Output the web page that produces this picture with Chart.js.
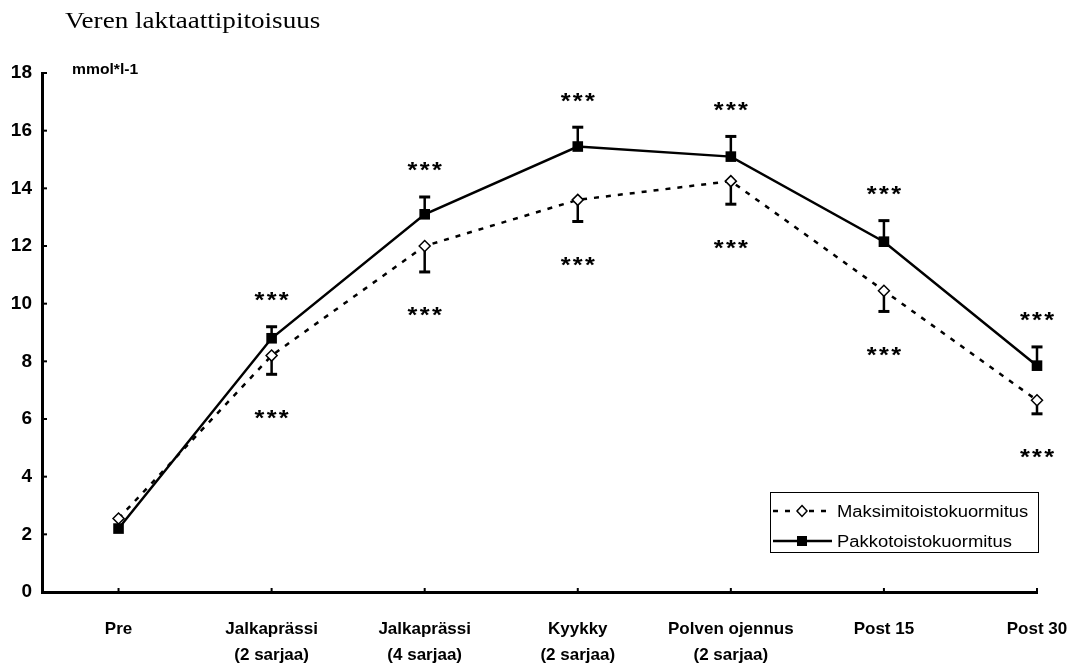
<!DOCTYPE html>
<html><head><meta charset="utf-8">
<script src="https://cdn.jsdelivr.net/npm/chart.js@4/dist/chart.umd.min.js"></script>
<style>html,body{margin:0;padding:0;background:#fff;overflow:hidden}#wrap{width:1074px;height:666px;position:relative}</style>
</head><body><div id="wrap"><canvas id="c"></canvas></div>
<script>
const titleText = "Veren laktaattipitoisuus";
const unitText = "mmol*l-1";
const categories = [["Pre"], ["Jalkaprässi", "(2 sarjaa)"], ["Jalkaprässi", "(4 sarjaa)"], ["Kyykky", "(2 sarjaa)"], ["Polven ojennus", "(2 sarjaa)"], ["Post 15"], ["Post 30"]];
const yTicks = [0, 2, 4, 6, 8, 10, 12, 14, 16, 18];
const maksimiLabel = "Maksimitoistokuormitus";
const maksimiValues = [2.55, 8.2, 12.0, 13.6, 14.25, 10.45, 6.65];
const maksimiErrors = [0, 0.65, 0.9, 0.75, 0.8, 0.72, 0.47];
const maksimiSignificance = ["", "***", "***", "***", "***", "***", "***"];
const pakkoLabel = "Pakkotoistokuormitus";
const pakkoValues = [2.2, 8.8, 13.1, 15.45, 15.1, 12.15, 7.85];
const pakkoErrors = [0, 0.4, 0.6, 0.67, 0.7, 0.73, 0.65];
const pakkoSignificance = ["", "***", "***", "***", "***", "***", "***"];

const SANS = "'Liberation Sans', Arial, sans-serif";
const SERIF = "'Liberation Serif', 'Times New Roman', serif";
const STRETCH = 1.15;

function stretchedText(ctx, text, x, y, font, align, sx) {
  const k = sx || STRETCH;
  ctx.save();
  ctx.font = font;
  ctx.textBaseline = 'alphabetic';
  const w = ctx.measureText(text).width * k;
  let x0 = x;
  if (align === 'center') x0 = x - w / 2;
  ctx.translate(x0, y);
  ctx.scale(k, 1);
  ctx.textAlign = 'left';
  ctx.fillText(text, 0, 0);
  ctx.restore();
}

const errorSets = [
  {values: maksimiValues, errors: maksimiErrors, dir: -1, sig: maksimiSignificance},
  {values: pakkoValues, errors: pakkoErrors, dir: 1, sig: pakkoSignificance}
];

const decorPlugin = {
  id: 'decor',
  beforeDatasetsDraw(chart) {
    const ctx = chart.ctx, xs = chart.scales.x, ys = chart.scales.y;
    ctx.save();
    ctx.strokeStyle = '#000';
    errorSets.forEach(set => {
      set.values.forEach((v, i) => {
        const e = set.errors[i];
        if (!e) return;
        const x = xs.getPixelForValue(i);
        const y0 = ys.getPixelForValue(v);
        const y1 = ys.getPixelForValue(v + set.dir * e);
        ctx.lineWidth = 2.5;
        ctx.beginPath(); ctx.moveTo(x, y0); ctx.lineTo(x, y1); ctx.stroke();
        ctx.lineWidth = 3;
        ctx.beginPath(); ctx.moveTo(x - 5.5, y1); ctx.lineTo(x + 5.5, y1); ctx.stroke();
      });
    });
    ctx.restore();
  },
  afterDatasetsDraw(chart) {
    const ctx = chart.ctx, xs = chart.scales.x, ys = chart.scales.y, a = chart.chartArea;
    ctx.save();
    ctx.fillStyle = '#000';
    ctx.strokeStyle = '#000';
    ctx.lineWidth = 2;
    yTicks.forEach(v => {
      const y = ys.getPixelForValue(v);
      ctx.beginPath(); ctx.moveTo(a.left, y); ctx.lineTo(a.left + 5, y); ctx.stroke();
    });
    categories.forEach((c, i) => {
      const x = xs.getPixelForValue(i);
      ctx.beginPath(); ctx.moveTo(x, a.bottom); ctx.lineTo(x, a.bottom - 4); ctx.stroke();
    });
    const size = 22, ls = 2;
    errorSets.forEach(set => {
      set.values.forEach((v, i) => {
        const s = set.sig[i];
        if (!s) return;
        const x = xs.getPixelForValue(i);
        const yEnd = ys.getPixelForValue(v + set.dir * set.errors[i]);
        const cy = set.dir > 0 ? yEnd - 32 : yEnd + 38;
        ctx.save();
        ctx.font = 'bold ' + size + 'px ' + SANS;
        ctx.letterSpacing = ls + 'px';
        ctx.textBaseline = 'alphabetic';
        const w = (ctx.measureText(s).width - ls) * STRETCH;
        ctx.translate(x - w / 2, cy + 0.56 * size);
        ctx.scale(STRETCH, 1);
        ctx.fillText(s, 0, 0);
        ctx.restore();
      });
    });
    ctx.restore();
  },
  afterDraw(chart) {
    const ctx = chart.ctx;
    ctx.save();
    ctx.fillStyle = '#000';
    stretchedText(ctx, titleText, 65, 28, '24px ' + SERIF, 'left', 1.13);
    stretchedText(ctx, unitText, 72, 74, 'bold 14px ' + SANS, 'left', 1.12);
    const bx = 770.5, by = 492.5, bw = 268, bh = 60;
    ctx.fillStyle = '#fff';
    ctx.fillRect(bx, by, bw, bh);
    ctx.strokeStyle = '#000';
    ctx.lineWidth = 1;
    ctx.strokeRect(bx, by, bw, bh);
    const rows = [511, 541];
    chart.data.datasets.forEach((ds, k) => {
      const y = rows[k];
      ctx.save();
      ctx.strokeStyle = '#000';
      ctx.lineWidth = ds.borderWidth;
      ctx.setLineDash(ds.borderDash || []);
      ctx.beginPath(); ctx.moveTo(773, y); ctx.lineTo(832, y); ctx.stroke();
      ctx.setLineDash([]);
      ctx.fillStyle = ds.pointBackgroundColor;
      ctx.lineWidth = ds.pointBorderWidth;
      if (ds.pointStyle === 'rectRot') {
        ctx.beginPath();
        ctx.moveTo(802, y - 5.5); ctx.lineTo(807, y); ctx.lineTo(802, y + 5.5); ctx.lineTo(797, y); ctx.closePath();
        ctx.fill(); ctx.stroke();
      } else {
        ctx.fillRect(797, y - 5, 10, 10);
      }
      ctx.restore();
      ctx.fillStyle = '#000';
      stretchedText(ctx, ds.label, 837, y + 6, '16px ' + SANS, 'left');
    });
    ctx.restore();
  }
};

const tickFont = {family: SANS, weight: 'bold'};

new Chart(document.getElementById('c'), {
  type: 'line',
  data: {
    datasets: [
      {
        label: maksimiLabel,
        data: maksimiValues.map((v, i) => ({x: i, y: v})),
        borderColor: '#000', borderWidth: 2.5, borderDash: [5, 7],
        pointStyle: 'rectRot', pointRadius: 5.5, pointHoverRadius: 5.5,
        pointBackgroundColor: '#fff', pointBorderColor: '#000', pointBorderWidth: 1.5,
        tension: 0, fill: false, clip: false, order: 1
      },
      {
        label: pakkoLabel,
        data: pakkoValues.map((v, i) => ({x: i, y: v})),
        borderColor: '#000', borderWidth: 2.5,
        pointStyle: 'rect', pointRadius: 7.5, pointHoverRadius: 7.5,
        pointBackgroundColor: '#000', pointBorderColor: '#000', pointBorderWidth: 0,
        tension: 0, fill: false, clip: false, order: 0
      }
    ]
  },
  options: {
    responsive: true,
    maintainAspectRatio: false,
    animation: false,
    events: [],
    layout: {padding: {top: 73, right: 37, left: 0, bottom: 0}},
    plugins: {legend: {display: false}, tooltip: {enabled: false}, title: {display: false}},
    scales: {
      x: {
        type: 'linear', min: -0.5, max: 6,
        afterBuildTicks: s => { s.ticks = categories.map((c, i) => ({value: i})); },
        afterFit: s => { s.height = 74; s.paddingLeft = 0; s.paddingRight = 0; },
        ticks: {
          callback: v => categories[v],
          font: {...tickFont, size: 17, lineHeight: 1.5},
          color: '#000', padding: 25, maxRotation: 0, autoSkip: false
        },
        grid: {drawOnChartArea: false, drawTicks: false},
        border: {color: '#000', width: 3}
      },
      y: {
        min: 0, max: 18,
        afterBuildTicks: s => { s.ticks = yTicks.map(v => ({value: v})); },
        afterFit: s => { s.width = 42; s.paddingTop = 0; s.paddingBottom = 0; },
        ticks: {font: {...tickFont, size: 19}, color: '#000', padding: 10},
        grid: {drawOnChartArea: false, drawTicks: false},
        border: {color: '#000', width: 3}
      }
    }
  },
  plugins: [decorPlugin]
});
</script>
</body></html>
